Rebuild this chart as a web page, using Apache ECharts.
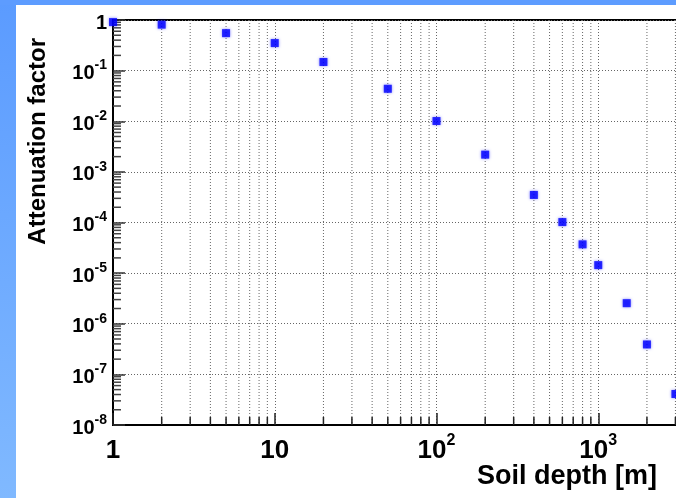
<!DOCTYPE html>
<html>
<head>
<meta charset="utf-8">
<script src="https://cdn.jsdelivr.net/npm/echarts@6/dist/echarts.min.js"></script>
<style>
  html, body { margin: 0; padding: 0; background: #fff; }
  #main { width: 676px; height: 498px; }
</style>
</head>
<body>
<div id="main"></div>
<script>
// soil depth [m] and attenuation factor
const depth = [1, 2, 5, 10, 20, 50, 100, 200, 400, 600, 800, 1000, 1500, 2000, 3000];
const atten = [0.91, 0.81, 0.55, 0.35, 0.148, 0.0438, 0.0101, 0.00219, 3.5e-4, 1.02e-4, 3.7e-5, 1.44e-5, 2.55e-6, 3.9e-7, 4.1e-8];

// axis ranges (the right part of the x axis is cut off in the picture)
const xMin = 1, xMax = 1e4;
const yMin = 1e-8, yMax = 1;

// minor ticks at 2..9 of every decade
const xMinor = [];
for (let d = 1; d < xMax; d *= 10) {
  for (let k = 2; k <= 9; k++) xMinor.push(k * d);
}
const yMinor = [];
for (let d = yMin; d < yMax; d *= 10) {
  for (let k = 2; k <= 9; k++) yMinor.push(k * d);
}

const chart = echarts.init(document.getElementById('main'), null, { renderer: 'canvas' });

const font = '"Liberation Sans", Arial, Helvetica, sans-serif';
const gridDots = { color: '#666', type: [1, 2], width: 1 };

// label like 10^n as rich text
function powLabel(v) {
  const e = Math.round(Math.log10(v));
  if (e === 0) return '{b|1}';
  if (e === 1) return '{b|10}';
  return '{b|10}{s|' + e + '}';
}

const option = {
  backgroundColor: '#fff',
  animation: false,
  grid: {
    left: 113, top: 20, right: -84, bottom: 73,
    containLabel: false,
    outerBoundsMode: 'none',
    show: true, borderColor: '#000', borderWidth: 2,
    backgroundColor: 'transparent'
  },
  xAxis: {
    type: 'log', logBase: 10, min: xMin, max: xMax, interval: 1,
    axisLine: { lineStyle: { color: '#000', width: 2 } },
    axisTick: { inside: true, length: 12, lineStyle: { color: '#222', width: 1.5 } },
    splitLine: { show: true, lineStyle: gridDots },
    axisLabel: {
      margin: 7,
      formatter: powLabel,
      rich: {
        b: { fontFamily: font, fontWeight: 'bold', fontSize: 26, color: '#000', lineHeight: 38 },
        s: { fontFamily: font, fontWeight: 'bold', fontSize: 16, color: '#000', lineHeight: 17, padding: [0, 0, 21, 0] }
      }
    }
  },
  yAxis: {
    type: 'log', logBase: 10, min: yMin, max: yMax, interval: 1,
    axisLine: { lineStyle: { color: '#000', width: 2 } },
    axisTick: { inside: true, length: 12, lineStyle: { color: '#333', width: 1.5 } },
    splitLine: { show: true, lineStyle: gridDots },
    axisLabel: {
      margin: 6,
      formatter: powLabel,
      rich: {
        b: { fontFamily: font, fontWeight: 'bold', fontSize: 20, color: '#000', lineHeight: 20, padding: [6, 0, 0, 0] },
        s: { fontFamily: font, fontWeight: 'bold', fontSize: 14, color: '#000', lineHeight: 14, padding: [0, 0, 10, 0] }
      }
    }
  },
  graphic: [
    // blue frame strips
    {
      type: 'rect', z: -10, shape: { x: 0, y: 0, width: 16, height: 498 },
      style: { fill: new echarts.graphic.LinearGradient(0, 0, 0, 1, [
        { offset: 0, color: '#5b9bff' }, { offset: 1, color: '#80b9ff' }
      ]) }
    },
    { type: 'rect', z: -10, shape: { x: 0, y: 0, width: 676, height: 5 }, style: { fill: '#5d9cff' } },
    // axis titles
    {
      type: 'text', x: 38, y: 38, rotation: Math.PI / 2,
      style: { text: 'Attenuation factor', font: 'bold 24px ' + font, fill: '#000', align: 'right', verticalAlign: 'middle' }
    },
    {
      type: 'text', x: 657, y: 477,
      style: { text: 'Soil depth [m]', font: 'bold 27px ' + font, fill: '#000', align: 'right', verticalAlign: 'middle' }
    }
  ],
  series: [
    {
      // x minor grid lines and ticks
      type: 'custom',
      silent: true,
      data: xMinor.map(v => [v, yMax]),
      renderItem: function (params, api) {
        const t = api.coord([api.value(0), yMax]);
        const b = api.coord([api.value(0), yMin]);
        return {
          type: 'group',
          children: [
            { type: 'line', shape: { x1: t[0], y1: t[1], x2: b[0], y2: b[1] },
              style: { stroke: '#666', lineWidth: 1, lineDash: [1, 2] } },
            { type: 'line', shape: { x1: b[0], y1: b[1], x2: b[0], y2: b[1] - 8 },
              style: { stroke: '#222', lineWidth: 1.5 } }
          ]
        };
      },
      z: 1
    },
    {
      // y minor ticks
      type: 'custom',
      silent: true,
      data: yMinor.map(v => [xMin, v]),
      renderItem: function (params, api) {
        const p = api.coord([xMin, api.value(1)]);
        return {
          type: 'line', shape: { x1: p[0], y1: p[1], x2: p[0] + 8, y2: p[1] },
          style: { stroke: '#444', lineWidth: 1.5 }
        };
      },
      z: 1
    },
    {
      type: 'scatter',
      data: depth.map((d, i) => [d, atten[i]]),
      symbol: 'rect',
      symbolSize: 8,
      itemStyle: { color: '#0000ff', shadowBlur: 3, shadowColor: 'rgba(0,0,255,0.6)' },
      z: 5
    }
  ]
};

chart.setOption(option);
</script>
</body>
</html>
